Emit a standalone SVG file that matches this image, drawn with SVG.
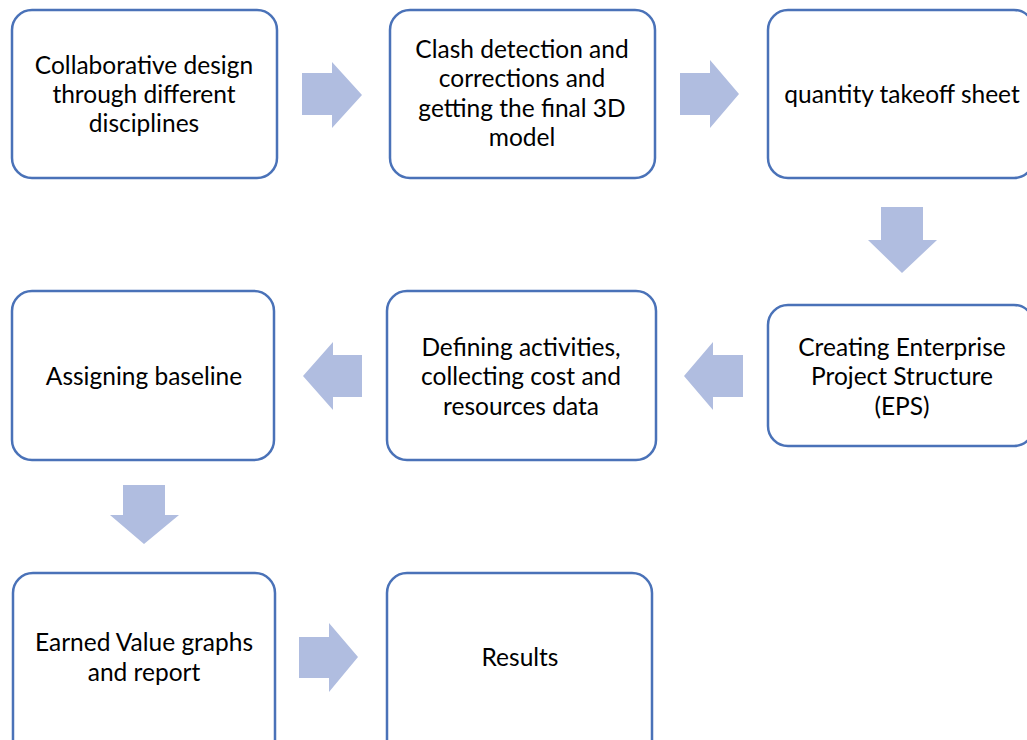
<svg xmlns="http://www.w3.org/2000/svg" width="1027" height="740" viewBox="0 0 1027 740">
<style>
.box{fill:#fff;stroke:#4A72B8;stroke-width:2.5}
.arr{fill:#B0BDE0;stroke:none}
text{font-family:Lato,"Open Sans","Liberation Sans",sans-serif;font-size:24.5px;fill:#000;text-anchor:middle}
</style>
<rect width="1027" height="740" fill="#fff"/>
<g id="connectors">
<polygon class="arr" points="302,73 332,73 332,62 362,95 332,128 332,115 302,115"/>
<polygon class="arr" points="680,73 710,73 710,60 739,94 710,128 710,115 680,115"/>
<polygon class="arr" points="881,207 923,207 923,240 937,240 902,273 868,240 881,240"/>
<polygon class="arr" points="743,355 713,355 713,342 684,376 713,410 713,397 743,397"/>
<polygon class="arr" points="362,355 333,355 333,342 303,376 333,410 333,397 362,397"/>
<polygon class="arr" points="123,485 165,485 165,515 179,515 144,544 110,515 123,515"/>
<polygon class="arr" points="299,637 329,637 329,623 358,657 329,692 329,678 299,678"/>
</g>
<g id="n1"><rect class="box" x="12" y="10" width="265" height="168" rx="20"/>
<text x="144" y="65" dy="0.35em">Collaborative design</text>
<text x="144" y="94" dy="0.35em">through different</text>
<text x="144" y="123" dy="0.35em">disciplines</text></g>
<g id="n2"><rect class="box" x="390" y="10" width="265" height="168" rx="20"/>
<text x="522" y="49" dy="0.35em">Clash detection and</text>
<text x="522" y="78" dy="0.35em">corrections and</text>
<text x="522" y="108" dy="0.35em">getting the final 3D</text>
<text x="522" y="137" dy="0.35em">model</text></g>
<g id="n3"><rect class="box" x="768" y="10" width="266" height="168" rx="20"/>
<text x="902" y="94" dy="0.35em">quantity takeoff sheet</text></g>
<g id="n4"><rect class="box" x="768" y="305" width="266" height="141" rx="20"/>
<text x="902" y="347" dy="0.35em">Creating Enterprise</text>
<text x="902" y="376" dy="0.35em">Project Structure</text>
<text x="902" y="406" dy="0.35em">(EPS)</text></g>
<g id="n5"><rect class="box" x="387" y="291" width="269" height="169" rx="20"/>
<text x="521" y="347" dy="0.35em">Defining activities,</text>
<text x="521" y="376" dy="0.35em">collecting cost and</text>
<text x="521" y="406" dy="0.35em">resources data</text></g>
<g id="n6"><rect class="box" x="12" y="291" width="262" height="169" rx="20"/>
<text x="144" y="376" dy="0.35em">Assigning baseline</text></g>
<g id="n7"><rect class="box" x="13" y="573" width="262" height="190" rx="20"/>
<text x="144" y="642" dy="0.35em">Earned Value graphs</text>
<text x="144" y="672" dy="0.35em">and report</text></g>
<g id="n8"><rect class="box" x="387" y="573" width="265" height="190" rx="20"/>
<text x="520" y="657" dy="0.35em">Results</text></g>
</svg>
